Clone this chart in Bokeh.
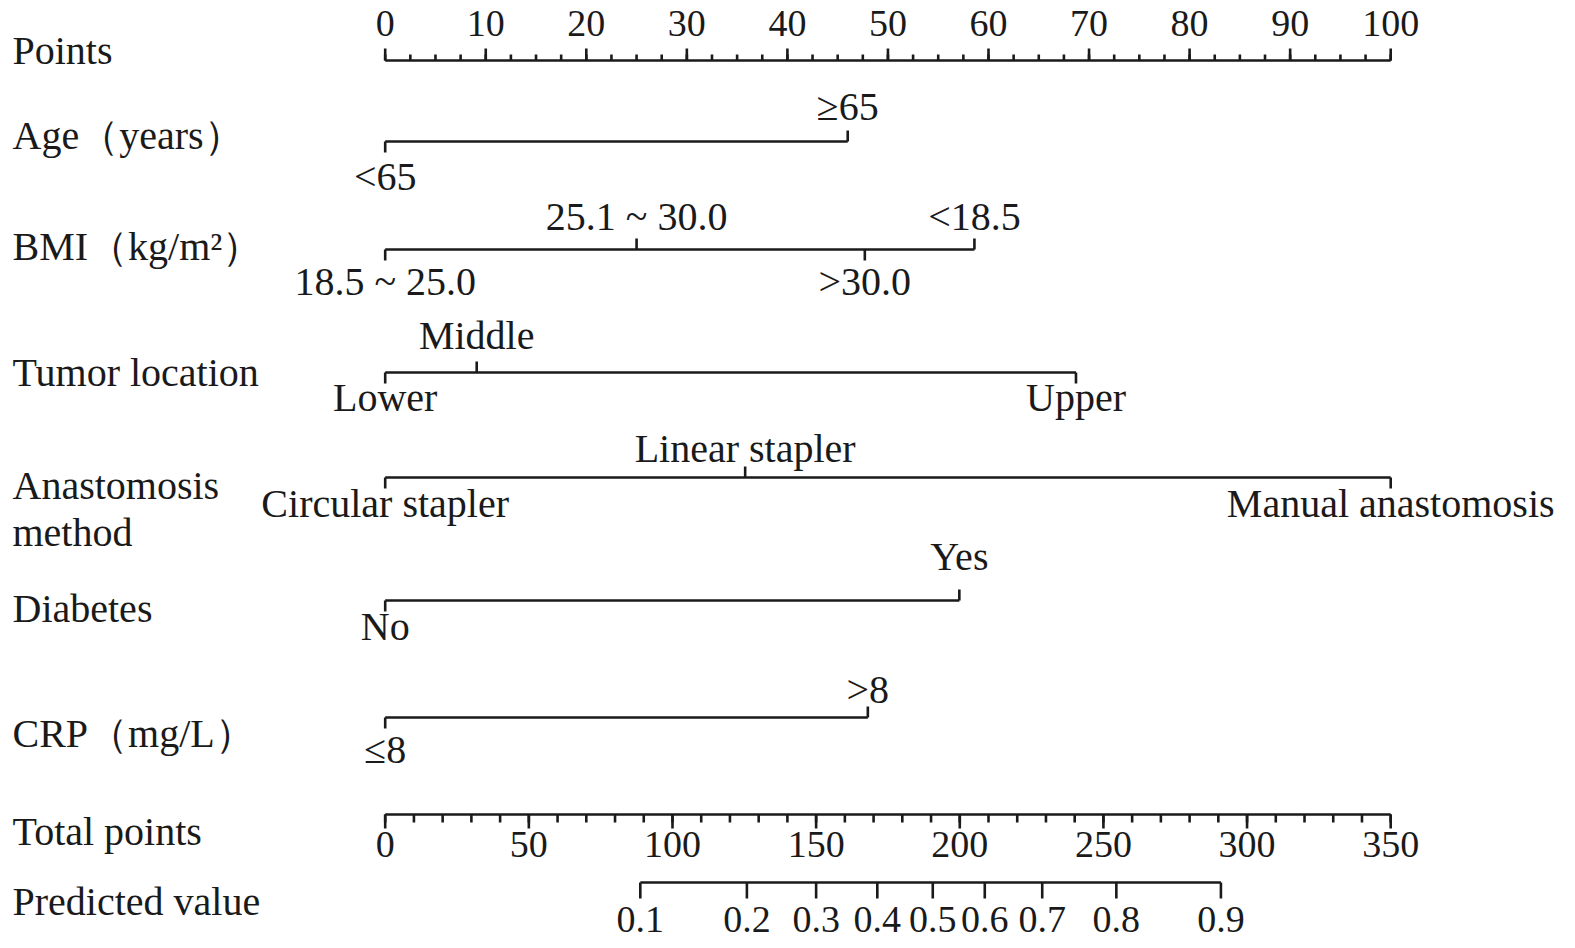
from bokeh.plotting import figure
from bokeh.models import Range1d
from bokeh.core.properties import value
from bokeh.embed import file_html
from bokeh.resources import INLINE

# ---- data ----
points_ticks = [0, 10, 20, 30, 40, 50, 60, 70, 80, 90, 100]
points_minor_step = 2.5

age_levels = ["<65", "\u226565"]
age_points = [0, 46.0]

bmi_levels = ["18.5 ~ 25.0", "25.1 ~ 30.0", ">30.0", "<18.5"]
bmi_points = [0, 25.0, 47.7, 58.6]

tumor_levels = ["Lower", "Middle", "Upper"]
tumor_points = [0, 9.1, 68.7]

anast_levels = ["Circular stapler", "Linear stapler", "Manual anastomosis"]
anast_points = [0, 35.8, 100.0]

diabetes_levels = ["No", "Yes"]
diabetes_points = [0, 57.1]

crp_levels = ["\u22648", ">8"]
crp_points = [0, 48.0]

total_ticks = [0, 50, 100, 150, 200, 250, 300, 350]
total_minor_step = 10
total_max = 350

pred_labels = ["0.1", "0.2", "0.3", "0.4", "0.5", "0.6", "0.7", "0.8", "0.9"]
pred_total = [88.8, 125.9, 150.0, 171.3, 190.6, 208.7, 228.7, 254.5, 290.9]

row_names = ["Points", "Age\uff08years\uff09", "BMI\uff08kg/m\u00b2\uff09", "Tumor location",
             "Anastomosis", "method", "Diabetes", "CRP\uff08mg/L\uff09", "Total points", "Predicted value"]

# ---- layout (canvas pixels, y down) ----
W, H = 1559, 940
FONT = value("Liberation Serif")
FS_WORD = "40px"
FS_NUM = "38px"
COL = "#1a1a1a"
LW = 2.6
px_per_pt = 10.055
x0_px = 384.7

row_label_y = [50, 135, 246, 372, 485, 532, 608, 733, 831, 901]
cat_rows = [
    (age_levels, age_points, 141, 106, 176),
    (bmi_levels, bmi_points, 249, 216, 281),
    (tumor_levels, tumor_points, 372, 335, 397),
    (anast_levels, anast_points, 477, 448, 503),
    (diabetes_levels, diabetes_points, 600, 556, 626),
    (crp_levels, crp_points, 717, 689, 749),
]

p = figure(width=W, height=H, output_backend="svg", toolbar_location=None,
           x_range=Range1d(-x0_px / px_per_pt, (W - x0_px) / px_per_pt),
           y_range=Range1d(H, 0), min_border=0)
p.axis.visible = False
p.grid.visible = False
p.outline_line_color = None
p.background_fill_color = "white"

def txt(x, y, t, align="center", fs=FS_WORD):
    p.text(x=x, y=y, text=t, text_font=FONT, text_font_size=fs, text_color=COL,
           text_align=align, text_baseline="middle")

# row names
lx = (12 - x0_px) / px_per_pt
txt([lx] * len(row_names), row_label_y, row_names, align="left")

# Points axis
py = 60
p.segment(x0=[points_ticks[0]], y0=[py], x1=[points_ticks[-1]], y1=[py], line_width=LW, line_color=COL)
minor = []
v = points_ticks[0]
while v <= points_ticks[-1] + 1e-9:
    minor.append(v)
    v += points_minor_step
p.segment(x0=minor, y0=[py] * len(minor), x1=minor, y1=[py - 6] * len(minor), line_width=LW, line_color=COL)
p.segment(x0=points_ticks, y0=[py] * len(points_ticks), x1=points_ticks, y1=[py - 12] * len(points_ticks),
          line_width=LW, line_color=COL)
txt(points_ticks, [23] * len(points_ticks), [str(t) for t in points_ticks], fs=FS_NUM)

# categorical rows
for levels, pts, ly, ya, yb in cat_rows:
    p.segment(x0=[min(pts)], y0=[ly], x1=[max(pts)], y1=[ly], line_width=LW, line_color=COL)
    for i, (lab, pt) in enumerate(zip(levels, pts)):
        if i % 2 == 0:
            p.segment(x0=[pt], y0=[ly], x1=[pt], y1=[ly + 11], line_width=LW, line_color=COL)
            txt([pt], [yb], [lab])
        else:
            p.segment(x0=[pt], y0=[ly], x1=[pt], y1=[ly - 11], line_width=LW, line_color=COL)
            txt([pt], [ya], [lab])

# Total points axis
scale = 100.0 / total_max
ty = 814
p.segment(x0=[0], y0=[ty], x1=[total_ticks[-1] * scale], y1=[ty], line_width=LW, line_color=COL)
tminor = list(range(0, total_max + 1, total_minor_step))
p.segment(x0=[t * scale for t in tminor], y0=[ty] * len(tminor), x1=[t * scale for t in tminor],
          y1=[ty + 8] * len(tminor), line_width=LW, line_color=COL)
p.segment(x0=[t * scale for t in total_ticks], y0=[ty] * len(total_ticks), x1=[t * scale for t in total_ticks],
          y1=[ty + 14] * len(total_ticks), line_width=LW, line_color=COL)
txt([t * scale for t in total_ticks], [844] * len(total_ticks), [str(t) for t in total_ticks], fs=FS_NUM)

# Predicted value axis
vy = 882
pxs = [t * scale for t in pred_total]
p.segment(x0=[pxs[0]], y0=[vy], x1=[pxs[-1]], y1=[vy], line_width=LW, line_color=COL)
p.segment(x0=pxs, y0=[vy] * len(pxs), x1=pxs, y1=[vy + 16] * len(pxs), line_width=LW, line_color=COL)
txt(pxs, [919] * len(pxs), pred_labels, fs=FS_NUM)

open("out.html", "w").write(file_html(p, INLINE))
